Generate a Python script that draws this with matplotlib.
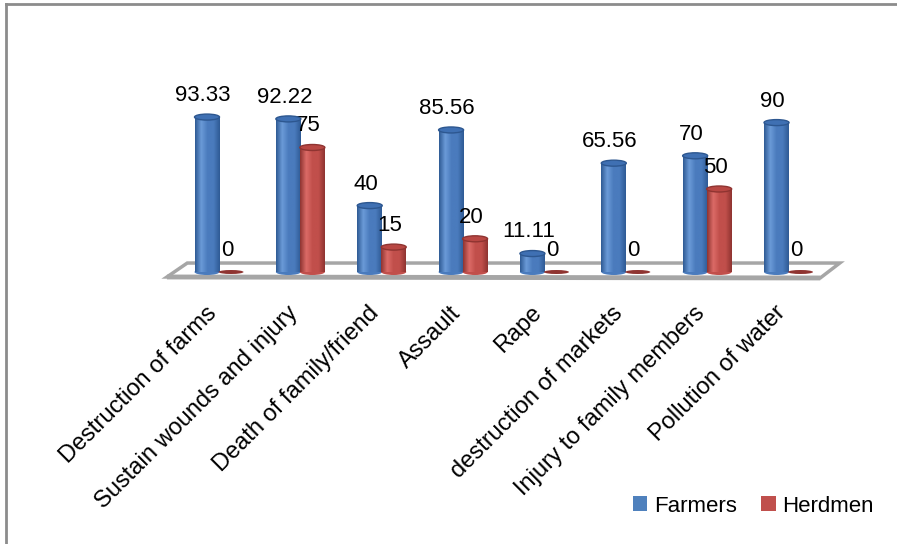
import numpy as np
import matplotlib
matplotlib.use("Agg")
import matplotlib.pyplot as plt
from matplotlib.patches import Ellipse, Polygon, Patch
from matplotlib.colors import LinearSegmentedColormap
from matplotlib.lines import Line2D

plt.rcParams['font.family'] = ['Liberation Sans', 'DejaVu Sans']

# data
categories = ['Destruction of farms', 'Sustain wounds and injury', 'Death of family/friend',
              'Assault', 'Rape', 'destruction of markets', 'Injury to family members',
              'Pollution of water']
farmers = [93.33, 92.22, 40, 85.56, 11.11, 65.56, 70, 90]
herdmen = [0, 75, 15, 20, 0, 0, 50, 0]
farmer_labels = ['93.33', '92.22', '40', '85.56', '11.11', '65.56', '70', '90']
herdmen_labels = ['0', '75', '15', '20', '0', '0', '50', '0']

W, H = 897, 544
fig = plt.figure(figsize=(W / 100, H / 100), dpi=100)
ax = fig.add_axes([0, 0, 1, 1])
ax.axis('off')

# pixel scale used for the layout (group spacing, value scale)
xpx, x0px = 81.36, 219.0
ypx, y0px = 1.66, 272.0

def cyl_cmap(dark, light, mid):
    return LinearSegmentedColormap.from_list('c', [dark, light, mid, mid, dark])

blue_cmap = cyl_cmap('#2f5b95', '#6b9bd8', '#4a7bbd')
red_cmap = cyl_cmap('#8f3431', '#dc6b67', '#c14f4b')

bw = 25 / xpx           # bar width in data units
eh = 6 / ypx            # ellipse height in data units

def cylinder(x, h, cmap, top_col, edge_col):
    if h <= 0:
        ax.add_patch(Ellipse((x, 0), bw, 4 / ypx, facecolor=edge_col, edgecolor='none', zorder=4))
        return
    ax.add_patch(Ellipse((x, 0), bw, eh, facecolor=cmap(0.6), edgecolor='none', zorder=3))
    ax.imshow(np.linspace(0, 1, 64)[None, :], cmap=cmap, aspect='auto',
              extent=(x - bw / 2, x + bw / 2, 0, h), zorder=3, interpolation='bilinear')
    ax.add_patch(Ellipse((x, h), bw, eh, facecolor=top_col, edgecolor=edge_col, lw=1, zorder=4))

# floor
floor = Polygon([(-0.64, -3.0), (-0.39, 5.4), (7.63, 5.4), (7.39, -3.6)], closed=True,
                facecolor='white', edgecolor='#a6a6a6', lw=2.5, zorder=1)
ax.add_patch(floor)
ax.plot([-0.64, 7.39], [-3.0, -3.6], color='#a6a6a6', lw=3.5, zorder=1, solid_capstyle='butt')

off = 12 / xpx
for i in range(len(categories)):
    cylinder(i - off, farmers[i], blue_cmap, '#3f70b3', '#2d5790')
    cylinder(i + off, herdmen[i], red_cmap, '#b84743', '#8f3431')
    ax.text(i - off - 0.05, farmers[i] + 13, farmer_labels[i], ha='center', va='center', fontsize=16)
    ax.text(i + off - 0.05, herdmen[i] + 13, herdmen_labels[i], ha='center', va='center', fontsize=16)
    ax.text(i - 0.17, -18, categories[i], rotation=45, ha='right', va='top',
            rotation_mode='anchor', fontsize=17)

ax.set_xlim(-x0px / xpx, (W - x0px) / xpx)
ax.set_ylim(-(H - y0px) / ypx, y0px / ypx)

handles = [Patch(facecolor='#4f81bd', label='Farmers'), Patch(facecolor='#c0504d', label='Herdmen')]
fig.legend(handles=handles, loc='center left', bbox_to_anchor=(633 / W, 1 - 506 / H), ncol=2,
           frameon=False, fontsize=16, handlelength=0.65, handleheight=0.65,
           handletextpad=0.3, columnspacing=1.1, borderpad=0, borderaxespad=0)

# chart area border
fig.add_artist(Line2D([5.5 / W, 5.5 / W], [0, 1 - 4 / H], color='#8c8c8c', lw=2))
fig.add_artist(Line2D([5.5 / W, 1], [1 - 4 / H, 1 - 4 / H], color='#8c8c8c', lw=2))

fig.savefig('out.png', dpi=100)
